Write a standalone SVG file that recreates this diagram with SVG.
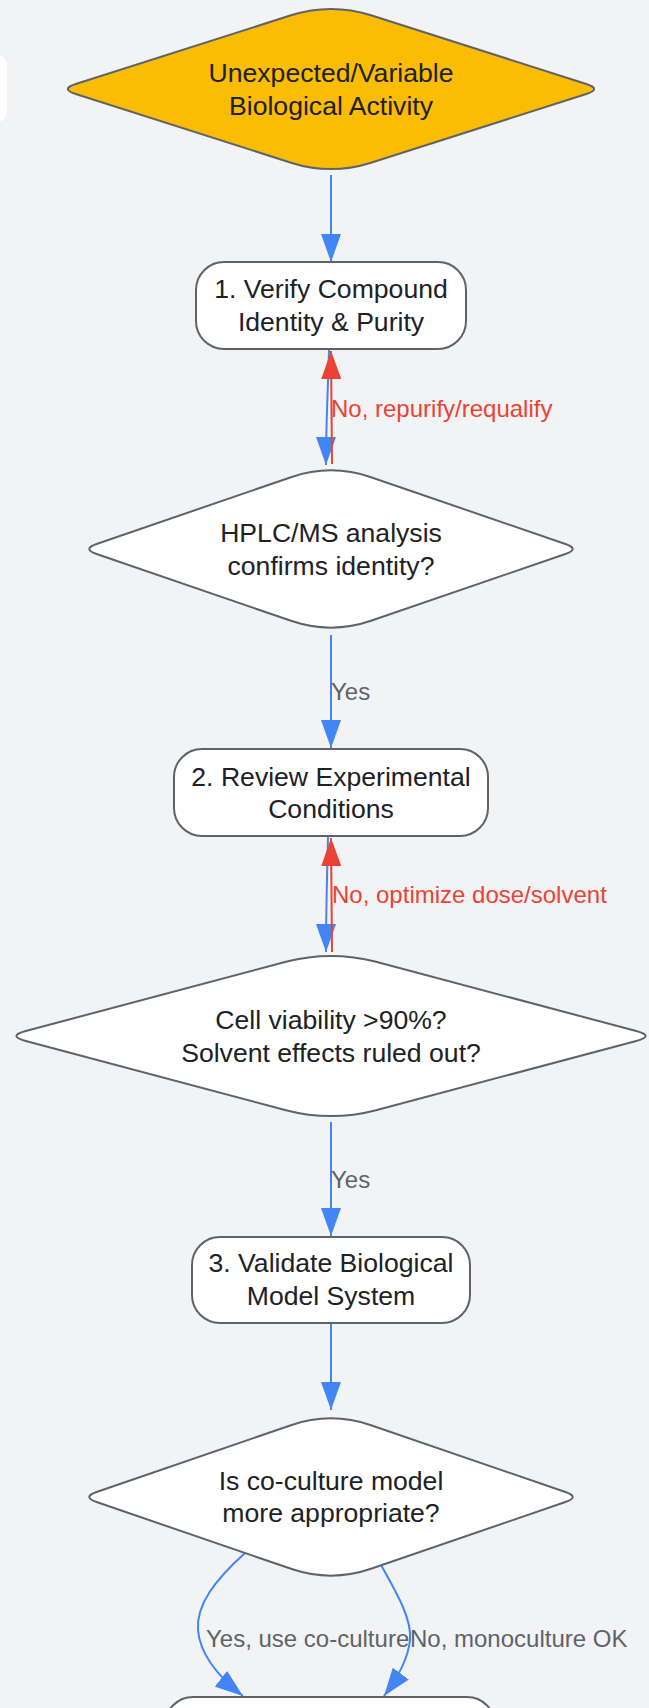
<svg xmlns="http://www.w3.org/2000/svg" width="649" height="1708" viewBox="0 0 649 1708">
<style>
.node{fill:#ffffff;stroke:#5f6368;stroke-width:2}
.start{fill:#fbbc04;stroke:#5f6368;stroke-width:2}
.nt{font-family:"Liberation Sans",Arial,sans-serif;font-size:26.6px;fill:#202124;text-anchor:middle}
.el{font-family:"Liberation Sans",Arial,sans-serif;font-size:24px}
.gray{fill:#5f6368}
.redt{fill:#ea4335}
.eb{fill:none;stroke:#4285f4;stroke-width:2}
.er{fill:none;stroke:#ea4335;stroke-width:2}
</style>
<defs>
<marker id="ab" markerUnits="userSpaceOnUse" markerWidth="28" markerHeight="20" refX="28" refY="10" orient="auto">
<path d="M0,0 L28,10 L0,20 Z" fill="#4285f4"/>
</marker>
<marker id="ar" markerUnits="userSpaceOnUse" markerWidth="28" markerHeight="20" refX="28" refY="10" orient="auto">
<path d="M0,0 L28,10 L0,20 Z" fill="#ea4335"/>
</marker>
</defs>
<rect width="649" height="1708" fill="#f1f3f4"/>
<rect x="-30" y="55" width="37" height="67" rx="10" fill="#ffffff"/>

<g id="connectors">
<path class="eb" d="M331,175 L331,262" marker-end="url(#ab)"/>
<path class="eb" d="M329,350 C328,390 326,420 326,465" marker-end="url(#ab)"/>
<path class="er" d="M332,464 L331,351" marker-end="url(#ar)"/>
<text class="el redt" x="331" y="417">No, repurify/requalify</text>
<path class="eb" d="M331,635 L331,748" marker-end="url(#ab)"/>
<text class="el gray" x="331" y="700">Yes</text>
<path class="eb" d="M328,837 C327,880 326,910 326,952" marker-end="url(#ab)"/>
<path class="er" d="M332,952 L331,838" marker-end="url(#ar)"/>
<text class="el redt" x="332" y="903">No, optimize dose/solvent</text>
<path class="eb" d="M331,1122 L331,1236" marker-end="url(#ab)"/>
<text class="el gray" x="331" y="1188">Yes</text>
<path class="eb" d="M331,1324 L331,1410" marker-end="url(#ab)"/>
<path class="eb" d="M245,1553 C215,1580 196,1605 198,1630 C200,1655 220,1678 243,1696" marker-end="url(#ab)"/>
<path class="eb" d="M381,1565 C398,1595 412,1620 410,1640 C408,1660 396,1680 384,1696" marker-end="url(#ab)"/>
<text class="el gray" x="206" y="1647">Yes, use co-culture</text>
<text class="el gray" x="410" y="1647">No, monoculture OK</text>
</g>

<g id="start">
<path class="start" d="M291,15.3 Q331,2.5 371,15.3 L586.3,84 Q602,89 586.3,94 L371,162.7 Q331,175.5 291,162.7 L75.7,94 Q60,89 75.7,84 Z"/>
<text class="nt" x="331" y="82">Unexpected/Variable</text>
<text class="nt" x="331" y="115">Biological Activity</text>
</g>

<g id="verify">
<rect class="node" x="196" y="262" width="270" height="87" rx="28"/>
<text class="nt" x="331" y="298">1. Verify Compound</text>
<text class="nt" x="331" y="331">Identity &amp; Purity</text>
</g>

<g id="hplc">
<path class="node" d="M291,477.2 Q331,463.5 371,477.2 L565.4,544 Q580,549 565.4,554 L371,620.8 Q331,634.5 291,620.8 L96.6,554 Q82,549 96.6,544 Z"/>
<text class="nt" x="331" y="542">HPLC/MS analysis</text>
<text class="nt" x="331" y="575">confirms identity?</text>
</g>

<g id="review">
<rect class="node" x="174" y="749" width="314" height="87" rx="28"/>
<text class="nt" x="331" y="786">2. Review Experimental</text>
<text class="nt" x="331" y="818">Conditions</text>
</g>

<g id="viability">
<path class="node" d="M286,961.8 Q331,950 376,961.8 L636.2,1031 Q655,1036 636.2,1041 L376,1110.2 Q331,1122 286,1110.2 L25.8,1041 Q7,1036 25.8,1031 Z"/>
<text class="nt" x="331" y="1029">Cell viability &gt;90%?</text>
<text class="nt" x="331" y="1062">Solvent effects ruled out?</text>
</g>

<g id="validate">
<rect class="node" x="192" y="1237" width="278" height="86" rx="28"/>
<text class="nt" x="331" y="1272">3. Validate Biological</text>
<text class="nt" x="331" y="1305">Model System</text>
</g>

<g id="coculture">
<path class="node" d="M291,1425.2 Q331,1411.5 371,1425.2 L565.4,1492 Q580,1497 565.4,1502 L371,1568.8 Q331,1582.5 291,1568.8 L96.6,1502 Q82,1497 96.6,1492 Z"/>
<text class="nt" x="331" y="1490">Is co-culture model</text>
<text class="nt" x="331" y="1522">more appropriate?</text>
</g>

<g id="next">
<rect class="node" x="165" y="1697" width="330" height="87" rx="28"/>
</g>
</svg>
